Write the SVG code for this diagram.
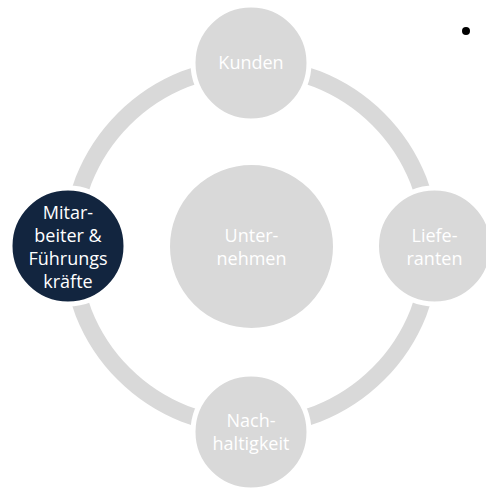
<svg xmlns="http://www.w3.org/2000/svg" width="486" height="490" viewBox="0 0 486 490">
  <style>
    .ring { fill: none; stroke: #d9d9d9; stroke-width: 17; }
    .node { fill: #d9d9d9; stroke: #ffffff; stroke-width: 5; }
    .node.active { fill: #12253f; }
    .lbl { font-family: "Open Sans", "Liberation Sans", sans-serif; font-size: 18px; fill: #ffffff; text-anchor: middle; }
  </style>
  <rect width="486" height="490" fill="#ffffff"/>
  <g id="connectors">
    <circle class="ring" cx="251" cy="246.5" r="180"/>
  </g>
  <g id="unternehmen">
    <circle class="node" cx="251.5" cy="246.5" r="84" stroke-width="0"/>
    <text class="lbl" x="251.5" y="242">Unter-</text>
    <text class="lbl" x="251.5" y="265">nehmen</text>
  </g>
  <g id="kunden">
    <circle class="node" cx="251" cy="63" r="58"/>
    <text class="lbl" x="251" y="69">Kunden</text>
  </g>
  <g id="mitarbeiter">
    <circle class="node active" cx="68" cy="246" r="58"/>
    <text class="lbl" x="68" y="219">Mitar-</text>
    <text class="lbl" x="68" y="242">beiter &amp;</text>
    <text class="lbl" x="68" y="265">Führungs</text>
    <text class="lbl" x="68" y="288">kräfte</text>
  </g>
  <g id="lieferanten">
    <circle class="node" cx="434.5" cy="246" r="58"/>
    <text class="lbl" x="434.5" y="242">Liefe-</text>
    <text class="lbl" x="434.5" y="265">ranten</text>
  </g>
  <g id="nachhaltigkeit">
    <circle class="node" cx="251" cy="432" r="58"/>
    <text class="lbl" x="251" y="427">Nach-</text>
    <text class="lbl" x="251" y="450">haltigkeit</text>
  </g>
  <circle cx="466" cy="31" r="4" fill="#000000"/>
</svg>
